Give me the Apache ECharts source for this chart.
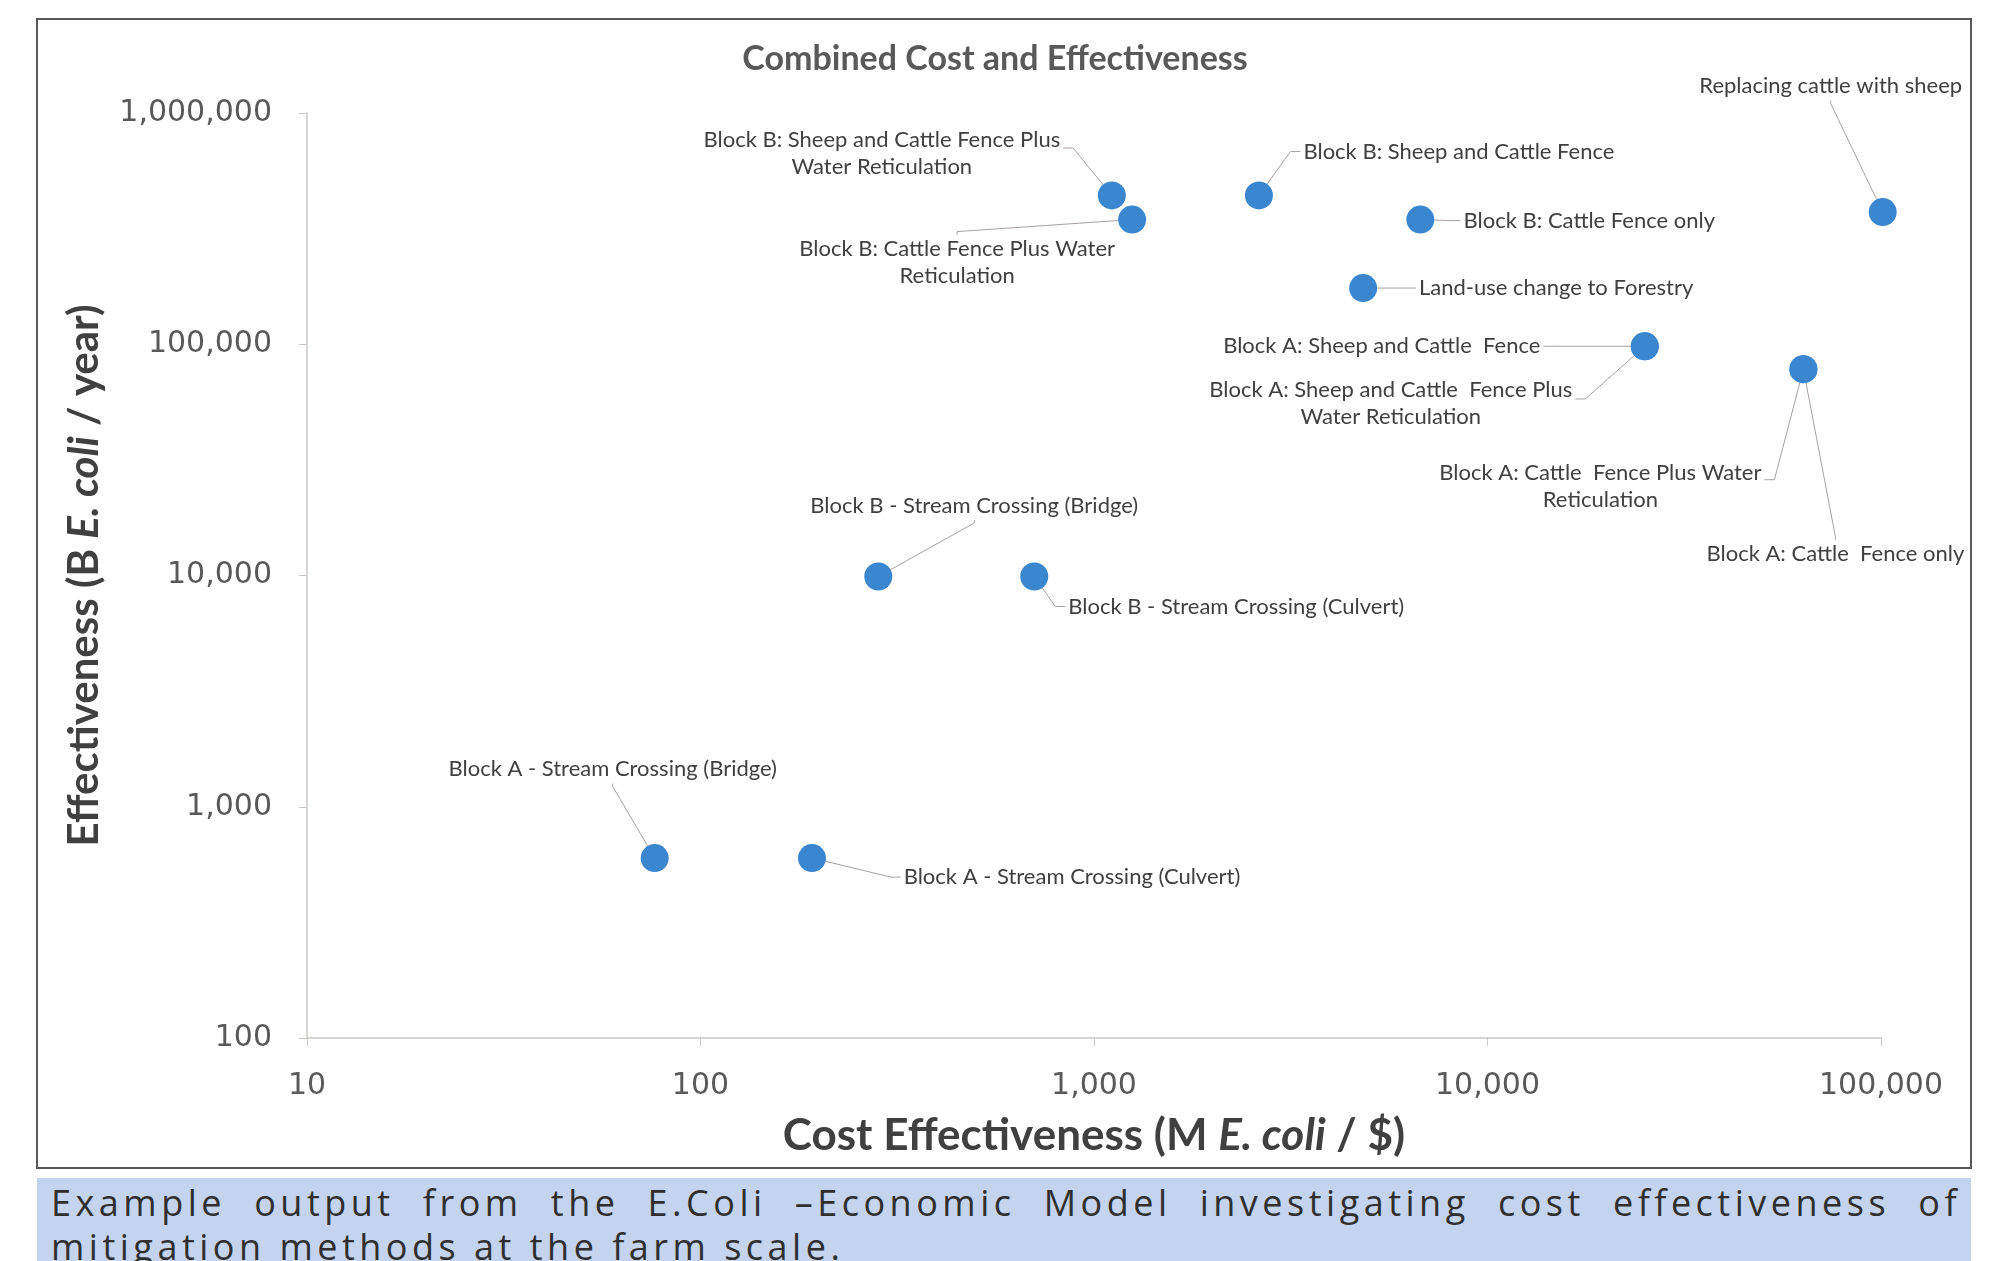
<!DOCTYPE html>
<html>
<head>
<meta charset="utf-8">
<script src="https://cdn.jsdelivr.net/npm/echarts@6/dist/echarts.min.js"></script>
<style>
  html, body { margin: 0; padding: 0; background: #fff; }
  #chart { position: absolute; left: 0; top: 0; width: 1990px; height: 1261px; }
  #caption { position: absolute; left: 37px; top: 1178px; width: 1934px; height: 83px; background: #c5d4ee; overflow: hidden; z-index: 5; }
  .cap { position: absolute; left: 14px; width: 1910px; font-family: "Open Sans", sans-serif; font-size: 36px; color: #2f2f2f; letter-spacing: 4.5px; white-space: nowrap; line-height: 44px; }
  #cap1 { top: 3px; text-align: justify; text-align-last: justify; white-space: normal; }
  #cap2 { top: 47px; }
</style>
</head>
<body>
<div id="chart"></div>
<div id="caption">
  <div class="cap" id="cap1">Example output from the E.Coli –Economic Model investigating cost effectiveness of</div>
  <div class="cap" id="cap2">mitigation methods at the farm scale.</div>
</div>
<script>
// ---- data ----
const pointLabels = [
  'Block B: Sheep and Cattle Fence Plus\nWater Reticulation',
  'Block B: Cattle Fence Plus Water\nReticulation',
  'Block B: Sheep and Cattle Fence',
  'Block B: Cattle Fence only',
  'Land-use change to Forestry',
  'Replacing cattle with sheep',
  'Block A: Sheep and Cattle  Fence',
  'Block A: Sheep and Cattle  Fence Plus\nWater Reticulation',
  'Block A: Cattle  Fence Plus Water\nReticulation',
  'Block A: Cattle  Fence only',
  'Block B - Stream Crossing (Bridge)',
  'Block B - Stream Crossing (Culvert)',
  'Block A - Stream Crossing (Bridge)',
  'Block A - Stream Crossing (Culvert)'
];
const costEffectiveness = [1110, 1250, 2625, 6750, 4830, 101000, 25100, 25100, 63500, 63500, 283, 705, 76.5, 192];
const effectiveness = [440000, 346000, 440000, 346000, 175000, 373000, 98000, 98000, 78000, 78000, 9900, 9900, 600, 600];
const xTicks = [10, 100, 1000, 10000, 100000];
const yTicks = [100, 1000, 10000, 100000, 1000000];

// label offsets (px, label centre relative to marker) - layout only
const labelOffsets = [
  [-230, -42], [-175, 43], [200, -44], [169, 1], [193, 0], [-52, -126],
  [-263, 0], [-254, 57], [-203, 117], [32, 185],
  [96, -71], [202, 30], [-42, -89], [260, 19]
];
// where the leader line meets each label (fraction of label box) - layout only
const labelAnchors = [
  [1, 0.4], [0.5, 0], [0, 0.5], [0, 0.5], [0, 0.5], [0.5, 1],
  [1, 0.5], [1, 0.42], [1, 0.38], [0.5, 0],
  [0.5, 1], [0, 0.5], [0.5, 1], [0, 0.5]
];

const LABEL_FONT = '22px Lato';
const LABEL_LH = 27;
const SYMBOL = 28;

const seriesData = pointLabels.map((n, i) => ({ name: n, value: [costEffectiveness[i], effectiveness[i]] }));
const fmt = v => Number(v).toLocaleString('en-US');

const measureCtx = document.createElement('canvas').getContext('2d');
function labelSize(text) {
  measureCtx.font = LABEL_FONT;
  const lines = text.split('\n');
  let w = 0;
  lines.forEach(l => { w = Math.max(w, measureCtx.measureText(l).width); });
  return [w, lines.length * LABEL_LH];
}

function renderLeader(params, api) {
  const i = params.dataIndex;
  const pt = api.coord([api.value(0), api.value(1)]);
  const size = labelSize(pointLabels[i]);
  const off = labelOffsets[i], a = labelAnchors[i];
  const x0 = pt[0] + off[0] - size[0] / 2, y0 = pt[1] + off[1] - size[1] / 2;
  const ax = x0 + a[0] * size[0] + (a[0] === 0 ? -3 : a[0] === 1 ? 3 : 0);
  const ay = y0 + a[1] * size[1] + (a[1] === 0 ? -1 : a[1] === 1 ? 1 : 0);
  let stub;
  if (a[1] === 0) stub = [ax, ay - 3];
  else if (a[1] === 1) stub = [ax, ay + 3];
  else if (a[0] === 0) stub = [ax - 10, ay];
  else stub = [ax + 10, ay];
  const rad = SYMBOL / 2;
  const vx = stub[0] - pt[0], vy = stub[1] - pt[1], d = Math.hypot(vx, vy) || 1;
  const edge = [pt[0] + vx / d * rad, pt[1] + vy / d * rad];
  return {
    type: 'polyline',
    shape: { points: [edge, stub, [ax, ay]] },
    style: { stroke: '#a8a0a0', lineWidth: 1, fill: null }
  };
}

const chart = echarts.init(document.getElementById('chart'));
chart.setOption({
  backgroundColor: '#fff',
  animation: false,
  title: {
    text: 'Combined Cost and Effectiveness',
    left: 'center', top: 37,
    textStyle: { fontFamily: 'Lato', fontWeight: 'bold', fontSize: 34, color: '#595959' }
  },
  graphic: [{
    type: 'rect', silent: true, z: -1,
    shape: { x: 37, y: 19, width: 1934, height: 1149 },
    style: { fill: 'none', stroke: '#595959', lineWidth: 2 }
  }],
  grid: { left: 307, right: 109, top: 113, bottom: 223 },
  xAxis: {
    type: 'log', logBase: 10,
    min: xTicks[0], max: xTicks[xTicks.length - 1],
    name: 'Cost Effectiveness (M {i|E. coli} / $)',
    nameLocation: 'middle', nameGap: 76,
    nameTextStyle: {
      fontFamily: 'Lato', fontWeight: 'bold', fontSize: 44, color: '#404040',
      rich: { i: { fontFamily: 'Lato', fontWeight: 'bold', fontStyle: 'italic', fontSize: 44, color: '#404040' } }
    },
    axisLine: { show: true, lineStyle: { color: '#cfc6c6', width: 1.5 } },
    axisTick: { show: true, length: 8, lineStyle: { color: '#cfc6c6' } },
    minorTick: { show: false },
    splitLine: { show: false },
    axisLabel: { margin: 33, fontFamily: 'DejaVu Sans', fontSize: 30, color: '#595959', formatter: fmt }
  },
  yAxis: {
    type: 'log', logBase: 10,
    min: yTicks[0], max: yTicks[yTicks.length - 1],
    name: 'Effectiveness (B {i|E. coli} / year)',
    nameLocation: 'middle', nameGap: 202, nameRotate: 90,
    nameTextStyle: {
      fontFamily: 'Lato', fontWeight: 'bold', fontSize: 42, color: '#404040',
      rich: { i: { fontFamily: 'Lato', fontWeight: 'bold', fontStyle: 'italic', fontSize: 42, color: '#404040' } }
    },
    axisLine: { show: true, lineStyle: { color: '#cfc6c6', width: 1.5 } },
    axisTick: { show: true, length: 8, lineStyle: { color: '#cfc6c6' } },
    splitLine: { show: false },
    axisLabel: { margin: 35, fontFamily: 'DejaVu Sans', fontSize: 30, color: '#595959', formatter: fmt }
  },
  series: [{
    type: 'custom',
    z: 1,
    silent: true,
    clip: false,
    data: seriesData,
    renderItem: renderLeader
  }, {
    type: 'scatter',
    z: 2,
    clip: false,
    data: seriesData,
    symbol: 'circle',
    symbolSize: SYMBOL,
    itemStyle: { color: '#3a87d0', opacity: 1 },
    label: {
      show: true, position: 'inside',
      formatter: p => p.name,
      fontFamily: 'Lato', fontSize: 22, color: '#404040', lineHeight: LABEL_LH, align: 'center'
    },
    labelLayout: p => ({ dx: labelOffsets[p.dataIndex][0], dy: labelOffsets[p.dataIndex][1] })
  }]
});
</script>
</body>
</html>
